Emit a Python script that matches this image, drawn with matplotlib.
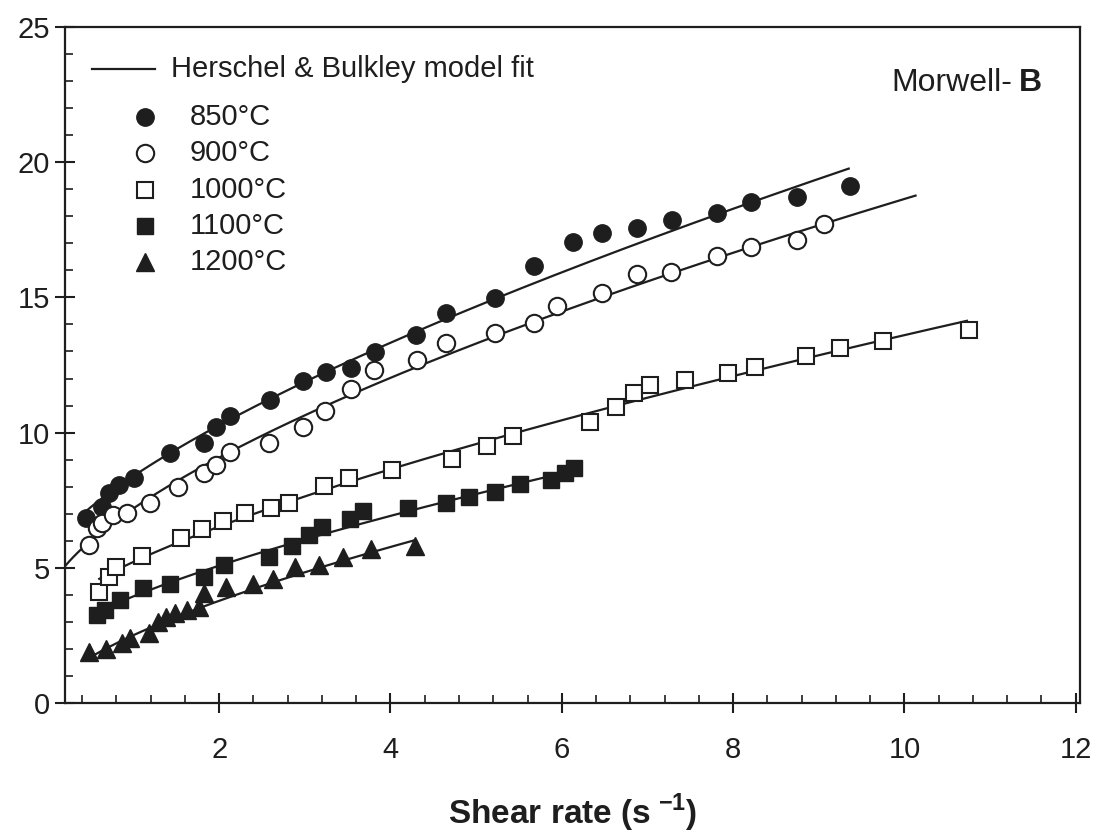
import numpy as np
import matplotlib
matplotlib.use("Agg")
import matplotlib.pyplot as plt
from matplotlib.ticker import MultipleLocator, FixedLocator

plt.rcParams['font.family'] = ['Liberation Sans', 'DejaVu Sans']
plt.rcParams['mathtext.fontset'] = 'custom'
plt.rcParams['mathtext.rm'] = 'Liberation Sans'
plt.rcParams['mathtext.bf'] = 'Liberation Sans:bold'

INK = '#1e1e1e'

# Measured shear stress vs. shear rate for each temperature
x850 = [0.45, 0.63, 0.71, 0.83, 1.00, 1.43, 1.82, 1.96, 2.13, 2.59, 2.98, 3.25, 3.54,
        3.82, 4.30, 4.65, 5.22, 5.68, 6.13, 6.47, 6.88, 7.29, 7.81, 8.21, 8.75, 9.36]
y850 = [6.83, 7.26, 7.78, 8.06, 8.33, 9.23, 9.60, 10.22, 10.63, 11.21, 11.91, 12.23, 12.38,
        12.99, 13.61, 14.41, 14.99, 16.17, 17.06, 17.37, 17.55, 17.86, 18.13, 18.54, 18.72, 19.12]

x900 = [0.48, 0.57, 0.63, 0.76, 0.92, 1.19, 1.52, 1.82, 1.96, 2.13, 2.58, 2.98, 3.24, 3.54,
        3.81, 4.31, 4.65, 5.22, 5.68, 5.94, 6.47, 6.88, 7.28, 7.81, 8.21, 8.75, 9.06]
y900 = [5.84, 6.46, 6.65, 6.95, 7.02, 7.41, 8.00, 8.52, 8.80, 9.29, 9.60, 10.20, 10.80, 11.60,
        12.32, 12.70, 13.30, 13.68, 14.06, 14.68, 15.15, 15.87, 15.95, 16.54, 16.85, 17.12, 17.71]

x1000 = [0.60, 0.71, 0.80, 1.10, 1.55, 1.80, 2.05, 2.30, 2.61, 2.81, 3.22, 3.52, 4.02, 4.72,
         5.13, 5.43, 6.33, 6.63, 6.84, 7.03, 7.44, 7.94, 8.25, 8.85, 9.25, 9.75, 10.75]
y1000 = [4.12, 4.65, 5.04, 5.44, 6.11, 6.42, 6.73, 7.02, 7.20, 7.41, 8.03, 8.32, 8.62, 9.01,
         9.50, 9.89, 10.40, 10.96, 11.45, 11.76, 11.95, 12.22, 12.44, 12.83, 13.12, 13.39, 13.79]

x1100 = [0.57, 0.67, 0.84, 1.11, 1.43, 1.82, 2.06, 2.58, 2.85, 3.05, 3.20, 3.53, 3.68, 4.20,
         4.65, 4.92, 5.22, 5.51, 5.87, 6.04, 6.14]
y1100 = [3.25, 3.44, 3.81, 4.26, 4.40, 4.65, 5.10, 5.41, 5.81, 6.21, 6.50, 6.80, 7.11, 7.20,
         7.41, 7.61, 7.81, 8.09, 8.25, 8.49, 8.68]

x1200 = [0.48, 0.68, 0.86, 0.96, 1.18, 1.29, 1.38, 1.49, 1.63, 1.76, 1.82, 2.08, 2.39, 2.63,
         2.89, 3.16, 3.44, 3.77, 4.29]
y1200 = [1.90, 1.99, 2.21, 2.39, 2.60, 3.01, 3.19, 3.32, 3.44, 3.56, 4.08, 4.30, 4.40, 4.57,
         5.02, 5.10, 5.41, 5.68, 5.80]

# Herschel & Bulkley parameters: tau = tau0 + K * rate**n, fitted range
hb_tau0 = [5.39, 3.90, 3.13, 2.13, 0.28]
hb_K = [3.006, 3.30, 2.09, 1.815, 2.23]
hb_n = [0.70, 0.65, 0.70, 0.70, 0.65]
hb_range = [(0.45, 9.35), (0.20, 10.13), (0.60, 10.73), (0.59, 6.14), (0.45, 4.29)]

labels = ['850°C', '900°C', '1000°C', '1100°C', '1200°C']
xs = [x850, x900, x1000, x1100, x1200]
ys = [y850, y900, y1000, y1100, y1200]
styles = [
    dict(marker='o', ms=12.5, mfc=INK, mec=INK, mew=1.0),
    dict(marker='o', ms=12.5, mfc='white', mec=INK, mew=1.5),
    dict(marker='s', ms=11.5, mfc='white', mec=INK, mew=1.5),
    dict(marker='s', ms=11.5, mfc=INK, mec=INK, mew=1.0),
    dict(marker='^', ms=13.5, mfc=INK, mec=INK, mew=1.0),
]

fig = plt.figure(figsize=(11.01, 8.40), dpi=100)
ax = fig.add_axes([65 / 1101, 1 - 703 / 840, 1015 / 1101, 676 / 840])

for t0, K, n, (a, b) in zip(hb_tau0, hb_K, hb_n, hb_range):
    g = np.linspace(a, b, 200)
    ax.plot(g, t0 + K * g ** n, color=INK, lw=1.6, zorder=2)

for x, y, st in zip(xs, ys, styles):
    ax.plot(x, y, ls='none', zorder=3, **st)

ax.set_xlim(0.2, 12.05)
ax.set_ylim(0, 25)

ax.xaxis.set_major_locator(FixedLocator([2, 4, 6, 8, 10, 12]))
ax.xaxis.set_minor_locator(MultipleLocator(0.4))
ax.yaxis.set_major_locator(MultipleLocator(5))
ax.yaxis.set_minor_locator(MultipleLocator(1))

ax.tick_params(which='major', direction='inout', length=14, width=1.5, color=INK,
               labelsize=21, labelcolor=INK)
ax.tick_params(axis='x', which='major', pad=17)
ax.tick_params(axis='y', which='major', pad=4)
ax.tick_params(which='minor', direction='in', length=6, width=1.2, color=INK)
ax.tick_params(top=False, right=False, which='both')

for s in ax.spines.values():
    s.set_linewidth(1.6)
    s.set_color(INK)

ax.set_xlabel(r'Shear rate (s$^{\ \mathbf{-1}}$)', fontsize=24, fontweight='bold',
              color=INK, labelpad=20)

# Legend drawn in axes coordinates
tr = ax.transAxes
ax.plot([0.027, 0.089], [0.938, 0.938], color=INK, lw=1.6, transform=tr, clip_on=False)
ax.text(0.104, 0.938, 'Herschel & Bulkley model fit', transform=tr, fontsize=21,
        va='center', ha='left', color=INK)
leg_y = [0.867, 0.813, 0.759, 0.705, 0.652]
for yy, lab, st in zip(leg_y, labels, styles):
    ax.plot([0.079], [yy], ls='none', transform=tr, clip_on=False, **st)
    ax.text(0.123, yy, lab, transform=tr, fontsize=21, va='center', ha='left', color=INK)

ax.text(0.933, 0.917, 'Morwell-', transform=tr, fontsize=23, va='center', ha='right',
        color=INK)
ax.text(0.940, 0.917, 'B', transform=tr, fontsize=23, fontweight='bold', va='center',
        ha='left', color=INK)

fig.savefig('out.png', dpi=100)
